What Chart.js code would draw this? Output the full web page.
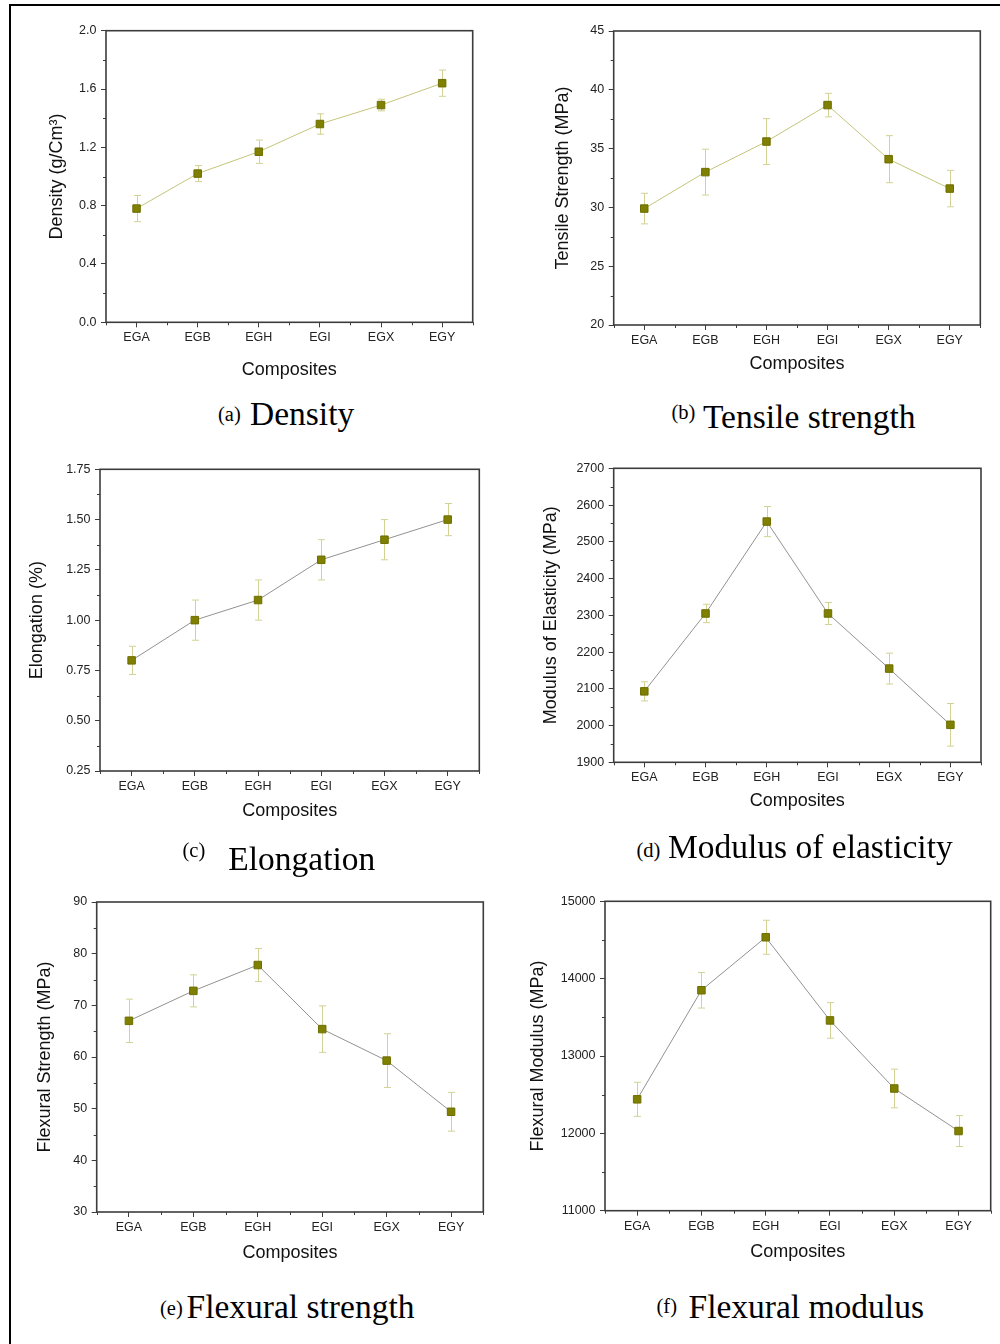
<!DOCTYPE html>
<html>
<head>
<meta charset="utf-8">
<script src="https://cdn.jsdelivr.net/npm/chart.js@4"></script>
<style>
  body { margin: 0; background: #fff; }
  #page { position: relative; width: 1000px; height: 1344px; overflow: hidden; background: #fff; }
  canvas { position: absolute; }
  .rule { position: absolute; background: #000; }
  .cap { position: absolute; font-family: "Liberation Serif", "Times New Roman", serif; color: #000; line-height: 1; white-space: nowrap; }
</style>
</head>
<body>
<div id="page">
  <div class="rule" style="left:9px;top:4px;width:991px;height:2px"></div>
  <div class="rule" style="left:9px;top:4px;width:2px;height:1340px"></div>
</div>
<script>
const categories = ['EGA', 'EGB', 'EGH', 'EGI', 'EGX', 'EGY'];

const density = [0.78, 1.02, 1.17, 1.36, 1.49, 1.64];
const densityErr = [0.09, 0.055, 0.08, 0.07, 0.04, 0.09];
const tensile = [29.9, 33.0, 35.6, 38.7, 34.1, 31.6];
const tensileErr = [1.3, 1.95, 1.95, 1.0, 2.0, 1.55];
const elongation = [0.80, 1.00, 1.10, 1.30, 1.40, 1.50];
const elongationErr = [0.07, 0.10, 0.10, 0.10, 0.10, 0.08];
const elasticity = [2093, 2305, 2555, 2305, 2155, 2002];
const elasticityErr = [26, 25, 41, 30, 42, 58];
const flexStrength = [67.0, 72.8, 77.8, 65.4, 59.3, 49.4];
const flexStrengthErr = [4.2, 3.1, 3.2, 4.5, 5.2, 3.75];
const flexModulus = [12440, 13850, 14535, 13460, 12580, 12030];
const flexModulusErr = [220, 230, 220, 230, 250, 200];

const SANS = '"Liberation Sans", Arial, sans-serif';
const OLIVE_LINE = '#c4c47a';
const GREY_LINE = '#929292';

const panels = [
  { data: density, err: densityErr, line: OLIVE_LINE, yTitle: 'Density (g/Cm³)',
    min: 0, max: 2, step: 0.4, dec: 1,
    area: [106, 30.7, 472.7, 322.3], yTitleX: 56.7, xTitleY: 370, col: 0,
    cap: ['(a)', 'Density'], capX: [218, 250], capBase: [421, 425] },
  { data: tensile, err: tensileErr, line: OLIVE_LINE, yTitle: 'Tensile Strength (MPa)',
    min: 20, max: 45, step: 5, dec: 0,
    area: [613.7, 31, 980.3, 325], yTitleX: 563.3, xTitleY: 364.3, col: 500,
    cap: ['(b)', 'Tensile strength'], capX: [671.5, 703], capBase: [419, 428] },
  { data: elongation, err: elongationErr, line: GREY_LINE, yTitle: 'Elongation (%)',
    min: 0.25, max: 1.75, step: 0.25, dec: 2,
    area: [100, 469.3, 479.3, 771], yTitleX: 37, xTitleY: 811, col: 0,
    cap: ['(c)', 'Elongation'], capX: [182.5, 228.3], capBase: [857, 870] },
  { data: elasticity, err: elasticityErr, line: GREY_LINE, yTitle: 'Modulus of Elasticity (MPa)',
    min: 1900, max: 2700, step: 100, dec: 0,
    area: [613.7, 468.3, 981, 762.3], yTitleX: 551.3, xTitleY: 801, col: 500,
    cap: ['(d)', 'Modulus of elasticity'], capX: [636.5, 668], capBase: [857, 858] },
  { data: flexStrength, err: flexStrengthErr, line: GREY_LINE, yTitle: 'Flexural Strength (MPa)',
    min: 30, max: 90, step: 10, dec: 0,
    area: [96.7, 902, 483.3, 1212], yTitleX: 45.5, xTitleY: 1253.3, col: 0,
    cap: ['(e)', 'Flexural strength'], capX: [160, 186.5], capBase: [1315, 1318] },
  { data: flexModulus, err: flexModulusErr, line: GREY_LINE, yTitle: 'Flexural Modulus (MPa)',
    min: 11000, max: 15000, step: 1000, dec: 0,
    area: [605, 901.3, 990.7, 1210.7], yTitleX: 538, xTitleY: 1251.7, col: 500,
    cap: ['(f)', 'Flexural modulus'], capX: [656.5, 688.5], capBase: [1313, 1318] }
];

// error bars drawn behind the line and markers
const errorBars = {
  id: 'errorBars',
  beforeDatasetsDraw(chart, args, opts) {
    const { ctx, scales: { x, y } } = chart;
    const vals = chart.data.datasets[0].data;
    ctx.save();
    ctx.strokeStyle = opts.color;
    ctx.lineWidth = 1;
    opts.errors.forEach((e, i) => {
      const px = Math.round(x.getPixelForValue(i)) + 0.5;
      const top = y.getPixelForValue(vals[i] + e);
      const bot = y.getPixelForValue(vals[i] - e);
      ctx.beginPath();
      ctx.moveTo(px, top); ctx.lineTo(px, bot);
      ctx.moveTo(px - 3.5, top); ctx.lineTo(px + 3.5, top);
      ctx.moveTo(px - 3.5, bot); ctx.lineTo(px + 3.5, bot);
      ctx.stroke();
    });
    ctx.restore();
  }
};

// plot frame and minor ticks
const frame = {
  id: 'frame',
  afterDraw(chart) {
    const { ctx, chartArea: a, scales: { x, y } } = chart;
    ctx.save();
    ctx.strokeStyle = '#3c3c3c';
    ctx.lineWidth = 1;
    ctx.beginPath();
    for (let i = 0; i < y.ticks.length - 1; i++) {
      const py = Math.round(y.getPixelForValue((y.ticks[i].value + y.ticks[i + 1].value) / 2)) + 0.5;
      ctx.moveTo(a.left - 3, py); ctx.lineTo(a.left, py);
    }
    const n = chart.data.labels.length;
    for (let i = 0; i <= n; i++) {
      const px = Math.round(x.getPixelForValue(i - 0.5)) + 0.5;
      ctx.moveTo(px, a.bottom); ctx.lineTo(px, a.bottom + 3);
    }
    ctx.stroke();
    ctx.lineWidth = 1.6;
    ctx.strokeRect(a.left, a.top, a.right - a.left, a.bottom - a.top);
    ctx.restore();
  }
};

const page = document.getElementById('page');

panels.forEach((p, k) => {
  const [l, t, r, b] = p.area;
  const lh = 18 * 1.2;
  const cx = p.col, cy = Math.floor(t - 20);
  const W = 500, H = Math.ceil(b - cy + 70);
  const padLeft = p.yTitleX - lh / 2 - cx;
  const yw = l - cx - padLeft;
  const xh = p.xTitleY - b + lh / 2;
  const padBottom = H - (b - cy) - xh;

  const cv = document.createElement('canvas');
  cv.width = W; cv.height = H;
  cv.style.left = cx + 'px'; cv.style.top = cy + 'px';
  page.appendChild(cv);

  new Chart(cv.getContext('2d'), {
    type: 'line',
    data: {
      labels: categories,
      datasets: [{
        data: p.data,
        borderColor: p.line,
        borderWidth: 1,
        tension: 0,
        pointStyle: 'rect',
        pointRadius: 5.3,
        pointBackgroundColor: '#7f7f00',
        pointBorderColor: '#6e6e00',
        pointBorderWidth: 1
      }]
    },
    options: {
      responsive: false,
      animation: false,
      layout: { padding: { left: padLeft, top: t - cy, right: cx + W - r, bottom: padBottom } },
      plugins: {
        legend: { display: false },
        tooltip: { enabled: false },
        errorBars: { errors: p.err, color: '#d2d294' }
      },
      scales: {
        x: {
          offset: true,
          grid: { drawOnChartArea: false, offset: false, tickLength: 5, tickColor: '#3c3c3c' },
          border: { display: false },
          ticks: { color: '#222', padding: 3, maxRotation: 0, autoSkip: false, font: { family: SANS, size: 12.5 } },
          title: { display: true, text: 'Composites', color: '#111', padding: 0, font: { family: SANS, size: 18 } },
          afterFit(s) { s.height = xh; }
        },
        y: {
          min: p.min,
          max: p.max,
          grid: { drawOnChartArea: false, tickLength: 5, tickColor: '#3c3c3c' },
          border: { display: false },
          ticks: {
            stepSize: p.step,
            color: '#222',
            padding: 4.5,
            font: { family: SANS, size: 12.5 },
            callback: v => Number(v).toFixed(p.dec)
          },
          title: { display: true, text: p.yTitle, color: '#111', padding: 0, font: { family: SANS, size: 18 } },
          afterFit(s) { s.width = yw; }
        }
      }
    },
    plugins: [errorBars, frame]
  });

  // caption below each panel
  [[p.cap[0], 20.5], [p.cap[1], 33.5]].forEach(([txt, fs], j) => {
    const s = document.createElement('div');
    s.className = 'cap';
    s.textContent = txt;
    s.style.fontSize = fs + 'px';
    s.style.left = p.capX[j] + 'px';
    s.style.top = (p.capBase[j] - 0.8375 * fs) + 'px';
    page.appendChild(s);
  });
});
</script>
</body>
</html>
